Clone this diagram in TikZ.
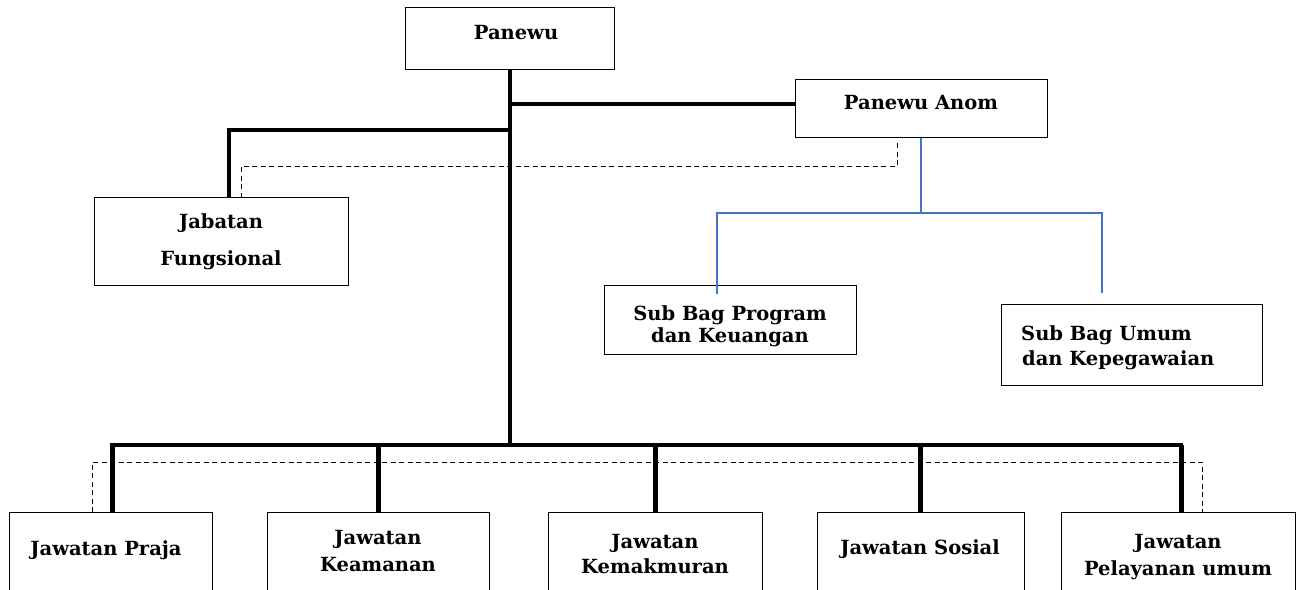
\documentclass[tikz,border=0pt]{standalone}
\usepackage{fontspec}
\setmainfont{DejaVu Serif}
\begin{document}
\begin{tikzpicture}[x=1pt,y=-1pt,
  box/.style={draw=black,line width=1pt,fill=white,inner sep=0pt},
  txt/.style={inner sep=0pt,align=center,font=\fontsize{19.5}{25}\selectfont\bfseries},
  conn/.style={line width=4pt},
  vconn/.style={line width=5pt},
  dconn/.style={line width=0.9pt,dash pattern=on 5pt off 3.5pt},
  bconn/.style={draw={rgb,255:red,68;green,114;blue,196},line width=1.2pt}]
\useasboundingbox (0,0) rectangle (1301,589);
\clip (0,0) rectangle (1301,589);
% boxes
\node[box,minimum width=209pt,minimum height=62pt] (pan) at (510,38.5) {};
\node[box,minimum width=252pt,minimum height=58pt] (anom) at (921,108) {};
\node[box,minimum width=254pt,minimum height=88pt] (jab) at (221,241) {};
\node[box,minimum width=252pt,minimum height=69pt] (sbp) at (730,319.5) {};
\node[box,minimum width=261pt,minimum height=81pt] (sbu) at (1131.5,344.5) {};
\node[box,minimum width=203pt,minimum height=88pt] (j1) at (110.5,556) {};
\node[box,minimum width=222pt,minimum height=88pt] (j2) at (378,556) {};
\node[box,minimum width=214pt,minimum height=88pt] (j3) at (655,556) {};
\node[box,minimum width=207pt,minimum height=88pt] (j4) at (920.5,556) {};
\node[box,minimum width=234pt,minimum height=88pt] (j5) at (1178,556) {};
% texts
\node[txt] (panT) at (516,33) {Panewu};
\node[txt] (anomT) at (921,103) {Panewu Anom};
\node[txt,font=\fontsize{19.5}{37}\selectfont\bfseries] (jabT) at (221,241.5) {Jabatan\\Fungsional};
\node[txt,font=\fontsize{19.5}{22}\selectfont\bfseries] (sbpT) at (730,326) {Sub Bag Program\\dan Keuangan};
\node[txt,align=left,anchor=west] (sbuT) at (1021,347.5) {Sub Bag Umum\\\hspace*{1pt}dan Kepegawaian};
\node[txt] (j1T) at (106,550) {Jawatan Praja};
\node[txt,font=\fontsize{19.5}{27}\selectfont\bfseries] (j2T) at (378,551) {Jawatan\\Keamanan};
\node[txt] (j3T) at (655,554) {Jawatan\\Kemakmuran};
\node[txt] (j4T) at (920,549) {Jawatan Sosial};
\node[txt,font=\fontsize{19.5}{27}\selectfont\bfseries] (j5T) at (1178,557) {Jawatan\\Pelayanan umum};
% coordinates
\coordinate (jA) at (510,104);
\coordinate (jB) at (510,130);
\coordinate (jabTop) at (229,197);
\coordinate (bar) at (510,445);
\coordinate (barL) at (112,445);
\coordinate (barR) at (1181,445);
\coordinate (dA) at (897,143);
\coordinate (dB) at (241,197);
\coordinate (bJ) at (921,213);
\coordinate (bL) at (717,294);
\coordinate (bR) at (1102,293);
\coordinate (dL) at (92,512);
\coordinate (dR) at (1202,512);
% black connectors
\draw[conn] (pan.south) -- (bar);
\draw[conn] (jA) -- (jA -| anom.west);
\draw[conn] (jB) -| (jabTop);
\draw[conn,line cap=rect] (barL) -- (barR);
\draw[vconn] (barL) -- (barL |- j1.north);
\draw[vconn] (j2.north |- bar) -- (j2.north);
\draw[vconn] (j3.north |- bar) -- (j3.north);
\draw[vconn] (j4.north |- bar) -- (j4.north);
\draw[vconn] (barR) -- (barR |- j5.north);
% dashed
\draw[dconn] (dA) |- (241,166) -- (dB);
\draw[dconn] (dL) |- (1202,462) -- (dR);
% blue
\draw[bconn] (anom.south) -- (bJ);
\draw[bconn] (bL) |- (bJ -| bR) -- (bR);
\end{tikzpicture}
\end{document}
